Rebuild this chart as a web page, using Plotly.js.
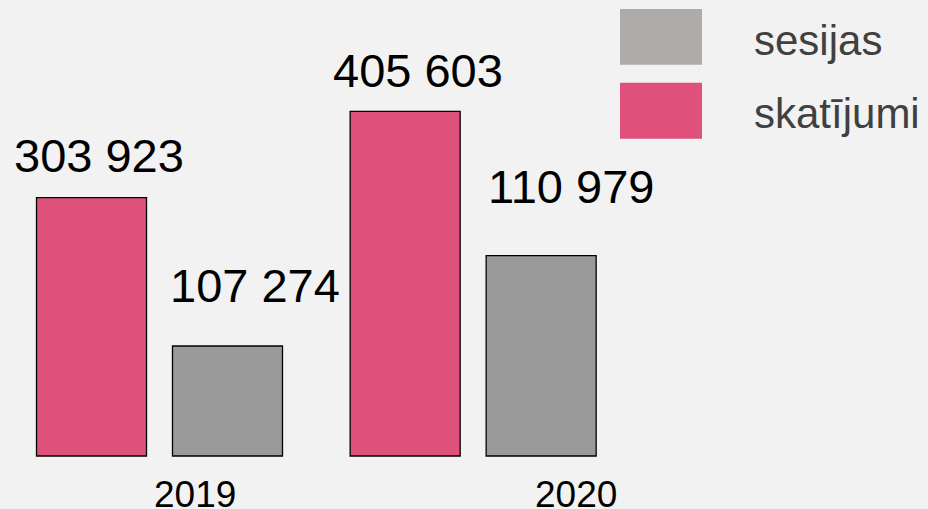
<!DOCTYPE html>
<html>
<head>
<meta charset="utf-8">
<script src="https://cdn.plot.ly/plotly-3.0.1.min.js"></script>
<style>
  html, body { margin: 0; padding: 0; background: #f2f2f2; }
  #chart { width: 928px; height: 509px; }
</style>
</head>
<body>
<div id="chart"></div>
<script>
// ---- data ----
const years = ['2019', '2020'];
const skatijumi = [303923, 405603];
const sesijas = [107274, 110979];
const legendNames = ['sesijas', 'skatījumi'];

// ---- styling / layout constants ----
const W = 928, H = 509;
const MARGIN_B = 50;
const PLOT_H = H - MARGIN_B;      // plot area height in px (top margin 0)
const BASE_PX = 456;              // baseline, px from top
const PINK = '#df517b';
const GREY = '#9a9a9a';
const GREY_LEGEND = '#adacaa';
const FONT = 'Liberation Sans, Arial, sans-serif';

// axis ranges (two independent value scales, as in the original)
const y1PerPx = 1176.7;
const y1Range = [-(PLOT_H - BASE_PX) * y1PerPx, BASE_PX * y1PerPx];
const y2Base = 102761, y2PerPx = 41.03;
const y2Range = [y2Base - (PLOT_H - BASE_PX) * y2PerPx, y2Base + BASE_PX * y2PerPx];

const unitPx = 313.65, cat0Px = 159.5;
const xRange = [-cat0Px / unitPx, (W - cat0Px) / unitPx];
const barW = 110 / unitPx;
const halfGap = 68 / unitPx;

const fmt = v => String(v).replace(/\B(?=(\d{3})+(?!\d))/g, ' ');
const px2x = px => px / W;
const px2y = py => (PLOT_H - py) / PLOT_H;

const traces = [
  {
    type: 'bar', name: legendNames[1], x: years, y: skatijumi,
    width: barW, offset: -halfGap - barW / 2,
    marker: { color: PINK, line: { color: '#000', width: 1.3 } },
    yaxis: 'y', showlegend: false, hoverinfo: 'skip'
  },
  {
    type: 'bar', name: legendNames[0], x: years,
    y: sesijas.map(v => v - y2Base), base: y2Base,
    width: barW, offset: halfGap - barW / 2,
    marker: { color: GREY, line: { color: '#000', width: 1.3 } },
    yaxis: 'y2', showlegend: false, hoverinfo: 'skip'
  }
];

// value labels
const pinkShift = [[7, 42], [13, 41]];
const greyShift = [[27, 61], [30, 69.5]];
const annotations = [];
years.forEach((yr, i) => {
  annotations.push({
    x: i - halfGap, y: skatijumi[i], xref: 'x', yref: 'y',
    text: fmt(skatijumi[i]), showarrow: false,
    xanchor: 'center', yanchor: 'middle',
    xshift: pinkShift[i][0], yshift: pinkShift[i][1],
    font: { family: FONT, size: 47, color: '#000' }
  });
  annotations.push({
    x: i + halfGap, y: sesijas[i], xref: 'x', yref: 'y2',
    text: fmt(sesijas[i]), showarrow: false,
    xanchor: 'center', yanchor: 'middle',
    xshift: greyShift[i][0], yshift: greyShift[i][1],
    font: { family: FONT, size: 47, color: '#000' }
  });
});
// year labels
const yearShift = [35, 103];
years.forEach((yr, i) => {
  annotations.push({
    x: i, y: px2y(494), xref: 'x', yref: 'paper',
    text: yr, showarrow: false, xanchor: 'center', yanchor: 'middle',
    xshift: yearShift[i],
    font: { family: FONT, size: 37, color: '#000' }
  });
});
// legend text
const legendRows = [
  { name: legendNames[0], color: GREY_LEGEND, top: 9, bottom: 64.7, textY: 40.4 },
  { name: legendNames[1], color: PINK, top: 82.7, bottom: 138.7, textY: 113.7 }
];
const shapes = [];
legendRows.forEach(r => {
  shapes.push({
    type: 'rect', xref: 'paper', yref: 'paper',
    x0: px2x(620), x1: px2x(702), y0: px2y(r.bottom), y1: px2y(r.top),
    fillcolor: r.color, line: { width: 0 }, layer: 'above'
  });
  annotations.push({
    x: px2x(752), y: px2y(r.textY), xref: 'paper', yref: 'paper',
    text: r.name, showarrow: false, xanchor: 'left', yanchor: 'middle',
    font: { family: FONT, size: 42, color: '#404040' }
  });
});

const layout = {
  width: W, height: H,
  margin: { l: 0, r: 0, t: 0, b: MARGIN_B, pad: 0 },
  paper_bgcolor: '#f2f2f2', plot_bgcolor: '#f2f2f2',
  barmode: 'overlay',
  showlegend: false,
  xaxis: { type: 'category', range: xRange, showticklabels: false, showgrid: false,
           zeroline: false, showline: false, ticks: '', fixedrange: true },
  yaxis: { range: y1Range, visible: false, showgrid: false, zeroline: false, fixedrange: true },
  yaxis2: { range: y2Range, overlaying: 'y', side: 'right', visible: false,
            showgrid: false, zeroline: false, fixedrange: true },
  annotations: annotations,
  shapes: shapes
};

Plotly.newPlot('chart', traces, layout, { displayModeBar: false, staticPlot: true });
</script>
</body>
</html>
